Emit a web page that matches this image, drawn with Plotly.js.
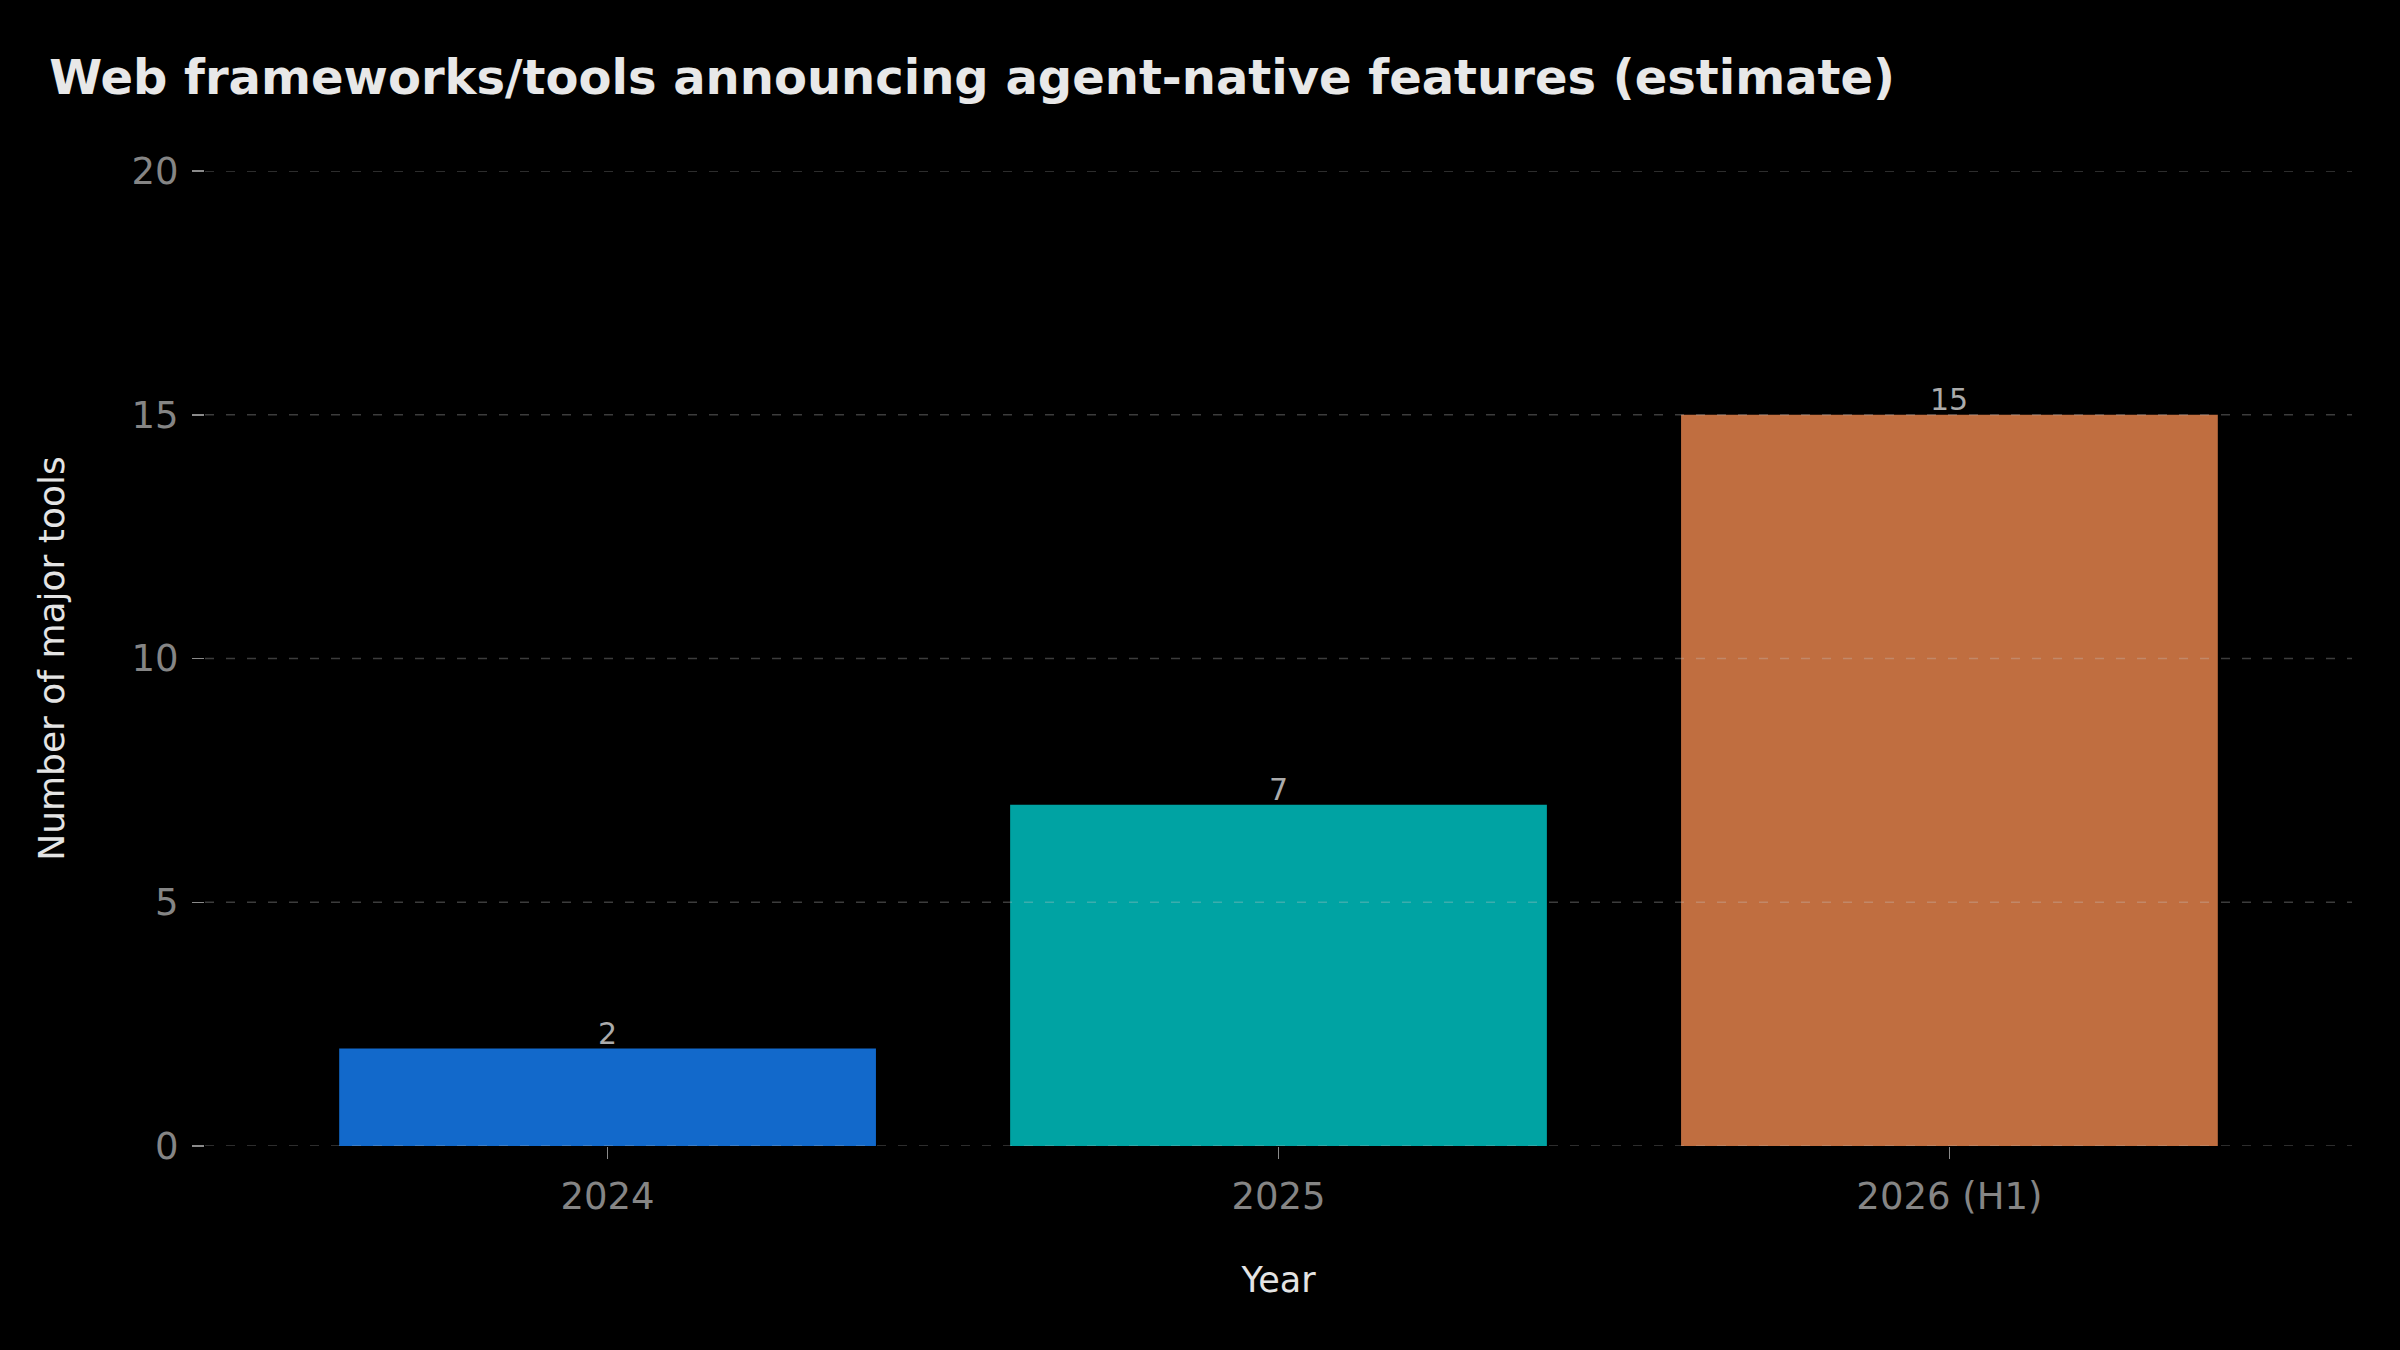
<!DOCTYPE html>
<html>
<head>
<meta charset="utf-8">
<script src="https://cdn.plot.ly/plotly-3.0.1.min.js"></script>
<style>
  html, body { margin: 0; padding: 0; background: #000; }
  #chart { width: 2400px; height: 1350px; }
</style>
</head>
<body>
<div id="chart"></div>
<script>
// Tools announcing agent-native features, per period
const periods = ["2024", "2025", "2026 (H1)"];
const toolCounts = [2, 7, 15];
const barColors = ["#1269CB", "#00A3A3", "#C06E40"];
const yTicks = [0, 5, 10, 15, 20];

const FONT = "DejaVu Sans, Verdana, sans-serif";

const trace = {
  type: "bar",
  x: periods,
  y: toolCounts,
  width: 0.8,
  marker: { color: barColors, line: { width: 0 } },
  hoverinfo: "x+y"
};

// value labels sitting just above each bar
// (category index is used for x so that "2024" is not read as a number)
const valueLabels = periods.map((p, i) => ({
  x: i,
  y: toolCounts[i],
  xref: "x", yref: "y",
  text: String(toolCounts[i]),
  showarrow: false,
  xanchor: "center", yanchor: "bottom",
  yshift: -4,
  font: { family: FONT, size: 30, color: "#ababab" }
}));

// dashed horizontal grid drawn on top of the bars
const gridShapes = yTicks.map(v => ({
  type: "line",
  xref: "paper", x0: 0, x1: 1,
  yref: "y", y0: v, y1: v,
  layer: "above",
  line: { color: "rgba(200,200,200,0.3)", width: 1.5, dash: "9px,12px" }
}));

const layout = {
  width: 2400,
  height: 1350,
  paper_bgcolor: "#000000",
  plot_bgcolor: "#000000",
  margin: { l: 205, r: 48, t: 171, b: 204, pad: 0 },
  font: { family: FONT, color: "#e0e0e0" },
  showlegend: false,
  bargap: 0.2,
  title: {
    text: "<b>Web frameworks/tools announcing agent-native features (estimate)</b>",
    font: { family: FONT, size: 48, color: "#e8e8e8" },
    xref: "container", x: 0.0205, xanchor: "left",
    yref: "container", y: 0.9425, yanchor: "middle"
  },
  xaxis: {
    type: "category",
    range: [-0.6, 2.6],
    showgrid: false, zeroline: false, showline: false,
    ticks: "outside", ticklen: 12, tickwidth: 1.5, tickcolor: "#8a8a8a",
    tickfont: { family: FONT, size: 37, color: "#858585" },
    ticklabelstandoff: 6,
    title: {
      text: "Year",
      font: { family: FONT, size: 35, color: "#e4e4e4" },
      standoff: 50
    }
  },
  yaxis: {
    range: [0, 20],
    tickmode: "array",
    tickvals: yTicks,
    ticktext: yTicks.map(String),
    showgrid: false, zeroline: false, showline: false,
    ticks: "outside", ticklen: 12, tickwidth: 1.5, tickcolor: "#8a8a8a",
    tickfont: { family: FONT, size: 37, color: "#858585" },
    ticklabelstandoff: 6,
    title: {
      text: "Number of major tools",
      font: { family: FONT, size: 36, color: "#e4e4e4" },
      standoff: 55
    }
  },
  annotations: valueLabels,
  shapes: gridShapes
};

Plotly.newPlot("chart", [trace], layout, { staticPlot: true, displayModeBar: false });
</script>
</body>
</html>
